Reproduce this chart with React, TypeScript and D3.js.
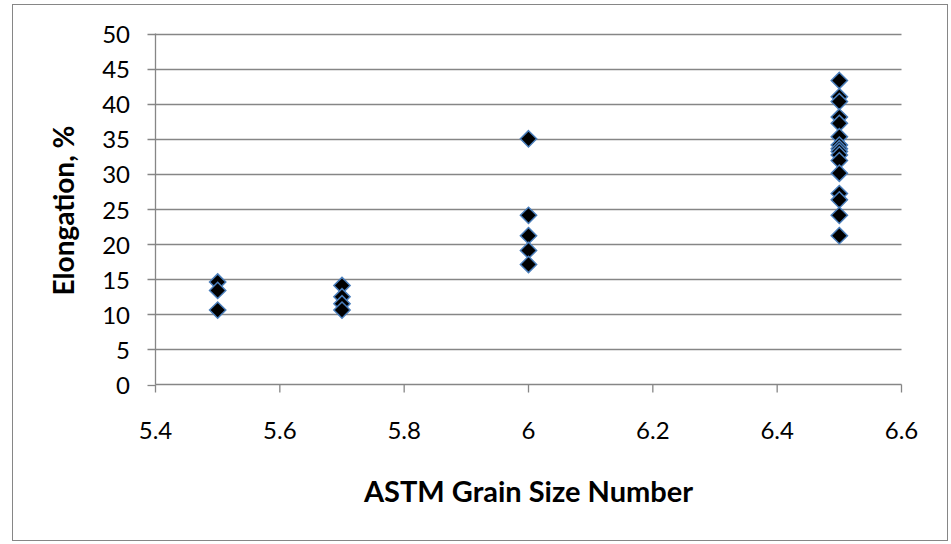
import React from "react";
import * as d3 from "d3";

// Grain size groups and the elongation measured for each specimen
const grain55 = [14.6, 13.4, 10.6];
const grain57 = [14.1, 12.5, 11.5, 10.6];
const grain60 = [35.0, 24.1, 21.2, 19.1, 17.1];
const grain65 = [43.3, 41.0, 40.3, 38.1, 37.2, 35.3, 34.1, 33.6, 33.2, 32.7, 31.9, 30.1, 27.2, 26.3, 24.1, 21.2];

const xTicks = [5.4, 5.6, 5.8, 6, 6.2, 6.4, 6.6];
const yTicks = [0, 5, 10, 15, 20, 25, 30, 35, 40, 45, 50];

const groups: { grain: number; values: number[] }[] = [
  { grain: 5.5, values: grain55 },
  { grain: 5.7, values: grain57 },
  { grain: 6.0, values: grain60 },
  { grain: 6.5, values: grain65 },
];

const W = 951;
const H = 544;
const plot = { left: 155.5, right: 901.5, top: 33.5, bottom: 384.5 };
const axisColor = "#868686";
const font = "Lato, 'Liberation Sans', sans-serif";

export default function App() {
  const x = d3.scaleLinear().domain([5.4, 6.6]).range([plot.left, plot.right]);
  const y = d3.scaleLinear().domain([0, 50]).range([plot.bottom, plot.top]);
  const diamond = d3.symbol().type(d3.symbolDiamond2).size(168)();

  const points = groups.flatMap((g) => g.values.map((v) => ({ x: g.grain, y: v })));

  return (
    <svg
      width={W}
      height={H}
      style={{ position: "absolute", left: 0, top: 0, background: "#fff" }}
    >
      <rect x={12.5} y={4.5} width={935} height={536} fill="#fff" stroke={axisColor} strokeWidth={1} />

      {/* horizontal gridlines with left tick marks */}
      {yTicks.map((t) => (
        <g key={"y" + t}>
          <line
            x1={plot.left - 8}
            x2={t > 0 ? plot.right : plot.left}
            y1={Math.round(y(t)) + 0.5}
            y2={Math.round(y(t)) + 0.5}
            stroke={axisColor}
            strokeWidth={1.3}
          />
          <text
            x={130}
            y={y(t)}
            textAnchor="end"
            dominantBaseline="central"
            fontFamily={font}
            fontSize={24}
            fill="#000"
          >
            {t}
          </text>
        </g>
      ))}

      {/* axes */}
      <line x1={plot.left} x2={plot.left} y1={plot.top} y2={plot.bottom} stroke={axisColor} strokeWidth={1.3} />
      <line x1={plot.left} x2={plot.right} y1={plot.bottom} y2={plot.bottom} stroke={axisColor} strokeWidth={1.3} />
      {xTicks.map((t) => (
        <g key={"x" + t}>
          <line x1={x(t)} x2={x(t)} y1={plot.bottom} y2={plot.bottom + 8} stroke={axisColor} strokeWidth={1.3} />
          <text
            x={x(t)}
            y={439}
            textAnchor="middle"
            fontFamily={font}
            fontSize={24}
            fill="#000"
          >
            {d3.format("~g")(t)}
          </text>
        </g>
      ))}

      {/* markers */}
      {points.map((p, i) => (
        <path
          key={i}
          d={diamond ?? ""}
          transform={`translate(${x(p.x)},${y(p.y)})`}
          fill="#000"
          stroke="#4a7ebb"
          strokeWidth={1.5}
        />
      ))}

      {/* axis titles */}
      <text
        x={(plot.left + plot.right) / 2}
        y={502}
        textAnchor="middle"
        fontFamily={font}
        fontWeight="bold"
        fontSize={29}
        fill="#000"
      >
        ASTM Grain Size Number
      </text>
      <text
        transform="translate(74,210.5) rotate(-90)"
        textAnchor="middle"
        fontFamily={font}
        fontWeight="bold"
        fontSize={28}
        fill="#000"
      >
        Elongation, %
      </text>
    </svg>
  );
}
